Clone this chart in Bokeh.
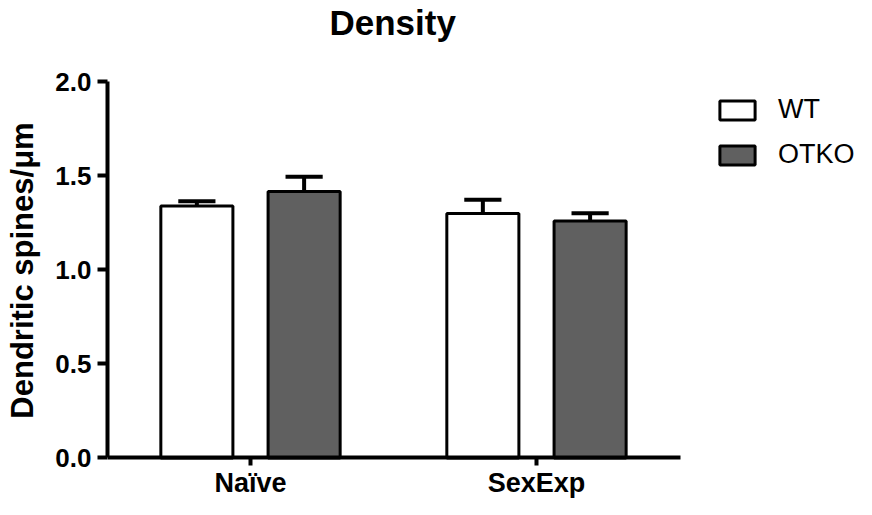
from bokeh.plotting import figure
from bokeh.models import Range1d, FixedTicker, PrintfTickFormatter, Legend, LegendItem, ColumnDataSource
from bokeh.embed import file_html
from bokeh.resources import INLINE

categories = ["Naïve", "SexExp"]
wt_mean = [1.34, 1.30]
wt_sem = [0.025, 0.073]
otko_mean = [1.417, 1.26]
otko_sem = [0.079, 0.042]

FONT = "Liberation Sans"
GRAY = "#606060"

# the frame spans the canvas below the title band
Y_TOP = 2.215
Y_BOTTOM = -0.221

p = figure(width=856, height=499, output_backend="svg", toolbar_location=None,
           x_range=Range1d(-0.5, 2.119), y_range=Range1d(Y_BOTTOM, Y_TOP),
           min_border_left=107, min_border_right=0, min_border_top=36, min_border_bottom=0)
p.outline_line_color = None
p.grid.visible = False
p.background_fill_color = None
p.border_fill_color = "white"

idx = list(range(len(categories)))
offset = 0.1875
bw = 0.252
capw = 0.13

def series(means, sems, sign, fill):
    xs = [i + sign * offset for i in idx]
    tops = [m + s for m, s in zip(means, sems)]
    src = ColumnDataSource(dict(x=xs, top=means, err=tops,
                                x0=[x - capw / 2 for x in xs], x1=[x + capw / 2 for x in xs]))
    p.segment(x0="x", y0="top", x1="x", y1="err", source=src, line_color="black", line_width=4)
    p.segment(x0="x0", y0="err", x1="x1", y1="err", source=src, line_color="black", line_width=4)
    r = p.vbar(x="x", top="top", bottom=0, width=bw, source=src, fill_color=fill,
               line_color="black", line_width=3)
    return r

r_wt = series(wt_mean, wt_sem, -1, "white")
r_ko = series(otko_mean, otko_sem, 1, GRAY)

# title
p.title.text = "Density"
p.title.text_font = FONT
p.title.text_font_size = "35px"
p.title.text_font_style = "bold"
p.title.text_color = "black"
p.title.align = "left"
p.title.offset = 222
p.title.standoff = 0

# y axis
ya = p.yaxis[0]
ya.ticker = FixedTicker(ticks=[0, 0.5, 1.0, 1.5, 2.0])
ya.formatter = PrintfTickFormatter(format="%.1f")
ya.bounds = (0, 2.0)
ya.axis_label = "Dendritic spines/μm"
ya.axis_label_text_font = FONT
ya.axis_label_text_font_size = "31px"
ya.axis_label_text_font_style = "bold"
ya.axis_label_text_color = "black"
ya.axis_label_standoff = 12
ya.major_label_text_font = FONT
ya.major_label_text_font_size = "26px"
ya.major_label_text_font_style = "bold"
ya.major_label_text_color = "black"
ya.major_label_standoff = 6
ya.major_tick_out = 10
ya.major_tick_in = 0
ya.minor_tick_out = 0
ya.minor_tick_in = 0
ya.axis_line_width = 4
ya.major_tick_line_width = 4

# x axis, pinned at y = 0
xa = p.xaxis[0]
xa.fixed_location = 0
xa.ticker = FixedTicker(ticks=idx)
xa.major_label_overrides = {i: c for i, c in zip(idx, categories)}
xa.bounds = (-0.5, 1.5035)
xa.major_label_text_font = FONT
xa.major_label_text_font_size = "27px"
xa.major_label_text_font_style = "bold"
xa.major_label_text_color = "black"
xa.major_label_standoff = 2
xa.major_tick_out = 8
xa.major_tick_in = 0
xa.minor_tick_out = 0
xa.minor_tick_in = 0
xa.axis_line_width = 4
xa.major_tick_line_width = 4

legend = Legend(items=[LegendItem(label="WT", renderers=[r_wt]),
                       LegendItem(label="OTKO", renderers=[r_ko])],
                location=(608, 329), orientation="vertical",
                glyph_width=44, glyph_height=24, label_standoff=19, spacing=14,
                padding=0, margin=0, border_line_color=None, background_fill_alpha=0,
                label_text_font=FONT, label_text_font_size="27px", label_text_color="black")
p.add_layout(legend)

open("out.html", "w").write(file_html(p, INLINE))
